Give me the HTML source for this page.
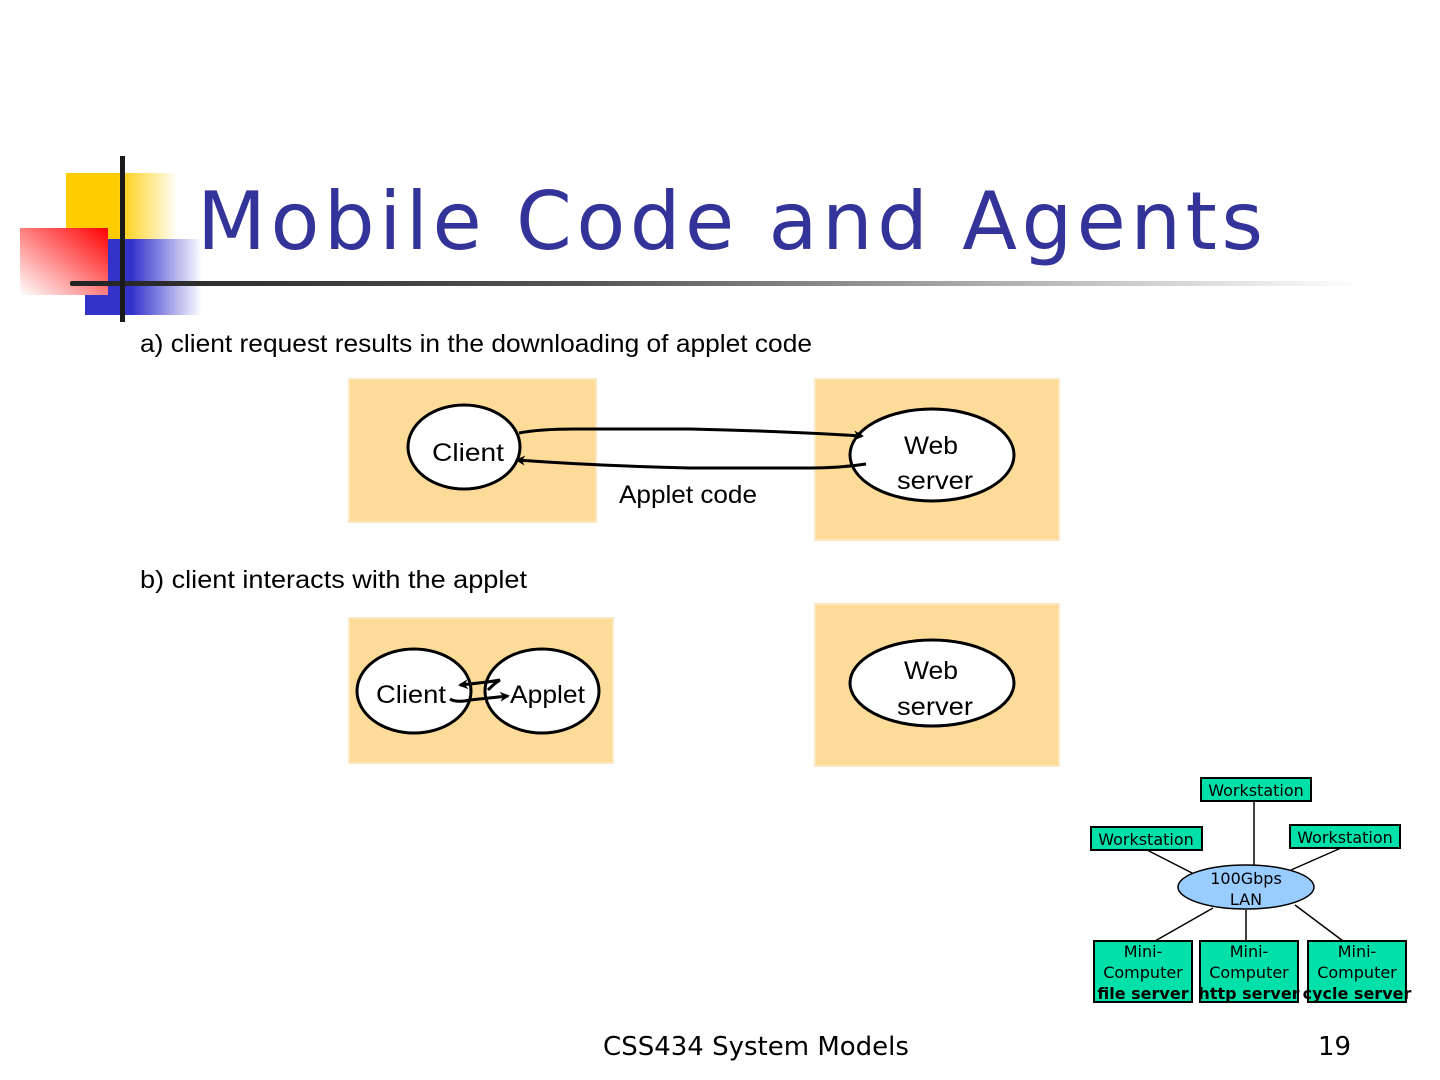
<!DOCTYPE html>
<html><head><meta charset="utf-8"><style>
html,body{margin:0;padding:0;background:#fff;}
svg{display:block;}
text{font-family:"Liberation Sans",sans-serif;}
.dv{font-family:"DejaVu Sans","Liberation Sans",sans-serif;}
</style></head><body>
<svg width="1440" height="1080" viewBox="0 0 1440 1080" xmlns="http://www.w3.org/2000/svg">
<defs>
<linearGradient id="gy" x1="0" x2="1" y1="0" y2="0"><stop offset="0.45" stop-color="#ffcc00"/><stop offset="1" stop-color="#ffffff"/></linearGradient>
<linearGradient id="gr" x1="0" y1="1" x2="1" y2="0"><stop offset="0" stop-color="#ffffff"/><stop offset="1" stop-color="#ff0000"/></linearGradient>
<linearGradient id="gb" x1="0" x2="1" y1="0" y2="0"><stop offset="0.4" stop-color="#3333cc"/><stop offset="1" stop-color="#ffffff"/></linearGradient>
<linearGradient id="gl" x1="0" x2="1" y1="0" y2="0"><stop offset="0" stop-color="#222"/><stop offset="0.4" stop-color="#555"/><stop offset="1" stop-color="#ffffff"/></linearGradient>
<marker id="ah" markerWidth="10" markerHeight="10" refX="8" refY="5" orient="auto" markerUnits="userSpaceOnUse"><path d="M0,0 L10,5 L0,10 L3,5 Z" fill="#000"/></marker>
</defs>
<rect x="66" y="173" width="112" height="68" fill="url(#gy)"/>
<rect x="85" y="239" width="117" height="76" fill="url(#gb)"/>
<rect x="20" y="228" width="88" height="67" fill="url(#gr)"/>
<rect x="70" y="281" width="1292" height="5" rx="2" fill="url(#gl)"/>
<rect x="120" y="156" width="5" height="166" fill="#1a1a1a"/>
<text class="dv" x="197" y="249" font-size="80" fill="#333399" textLength="1066">Mobile Code and Agents</text>

<text x="140" y="352" font-size="25" fill="#000" textLength="672" lengthAdjust="spacingAndGlyphs">a) client request results in the downloading of applet code</text>
<rect x="349" y="379" width="247" height="143" fill="#fddc9a" stroke="#fbe8c0" stroke-width="2"/>
<rect x="815" y="379" width="244" height="161" fill="#fddc9a" stroke="#fbe8c0" stroke-width="2"/>
<ellipse cx="464" cy="447" rx="56" ry="42" fill="#fff" stroke="#000" stroke-width="3"/>
<text x="432" y="461" font-size="25" textLength="72" lengthAdjust="spacingAndGlyphs">Client</text>
<ellipse cx="932" cy="455" rx="82" ry="46" fill="#fff" stroke="#000" stroke-width="3"/>
<text x="904" y="454" font-size="25" textLength="54" lengthAdjust="spacingAndGlyphs">Web</text>
<text x="897" y="489" font-size="25" textLength="76" lengthAdjust="spacingAndGlyphs">server</text>
<path d="M519,433 Q540,429 575,429 L690,429 Q780,431 862,436" fill="none" stroke="#000" stroke-width="3" marker-end="url(#ah)"/>
<path d="M866,464 Q840,468 810,468 L690,468 Q600,466 517,460" fill="none" stroke="#000" stroke-width="3" marker-end="url(#ah)"/>
<text x="619" y="503" font-size="25" textLength="138" lengthAdjust="spacingAndGlyphs">Applet code</text>

<text x="140" y="588" font-size="25" fill="#000" textLength="387" lengthAdjust="spacingAndGlyphs">b) client  interacts with the applet</text>
<rect x="349" y="618" width="264" height="145" fill="#fddc9a" stroke="#fbe8c0" stroke-width="2"/>
<rect x="815" y="604" width="244" height="162" fill="#fddc9a" stroke="#fbe8c0" stroke-width="2"/>
<ellipse cx="414" cy="691" rx="57" ry="42" fill="#fff" stroke="#000" stroke-width="3"/>
<ellipse cx="542" cy="691" rx="57" ry="42" fill="#fff" stroke="#000" stroke-width="3"/>
<text x="376" y="703" font-size="25" textLength="70" lengthAdjust="spacingAndGlyphs">Client</text>
<text x="510" y="703" font-size="25" textLength="75" lengthAdjust="spacingAndGlyphs">Applet</text>
<path d="M488,690 Q496,682 500,680 Q490,682 460,685" fill="none" stroke="#000" stroke-width="3" marker-end="url(#ah)"/>
<path d="M450,699 Q456,703 470,700 L508,696" fill="none" stroke="#000" stroke-width="3" marker-end="url(#ah)"/>
<ellipse cx="932" cy="683" rx="82" ry="43" fill="#fff" stroke="#000" stroke-width="3"/>
<text x="904" y="679" font-size="25" textLength="54" lengthAdjust="spacingAndGlyphs">Web</text>
<text x="897" y="715" font-size="25" textLength="76" lengthAdjust="spacingAndGlyphs">server</text>

<g stroke="#000" stroke-width="1.5">
<line x1="1254" y1="801" x2="1254" y2="866"/>
<line x1="1147" y1="850" x2="1196" y2="875"/>
<line x1="1341" y1="848" x2="1291" y2="870"/>
<line x1="1213" y1="908" x2="1155" y2="941"/>
<line x1="1246" y1="910" x2="1246" y2="941"/>
<line x1="1295" y1="905" x2="1343" y2="941"/>
</g>
<g stroke="#000" stroke-width="2" fill="#00e0a8">
<rect x="1201" y="778" width="110" height="23"/>
<rect x="1091" y="827" width="111" height="23"/>
<rect x="1290" y="825" width="110" height="23"/>
<rect x="1094" y="941" width="98" height="61"/>
<rect x="1200" y="941" width="98" height="61"/>
<rect x="1308" y="941" width="98" height="61"/>
</g>
<ellipse cx="1246" cy="887" rx="68" ry="22" fill="#99ccff" stroke="#000" stroke-width="1.5"/>
<g class="dv" font-size="16" fill="#000" text-anchor="middle" font-family="DejaVu Sans, sans-serif">
<text x="1256" y="796" class="dv">Workstation</text>
<text x="1146" y="845" class="dv">Workstation</text>
<text x="1345" y="843" class="dv">Workstation</text>
<text x="1246" y="884" class="dv">100Gbps</text>
<text x="1246" y="905" class="dv">LAN</text>
<text x="1143" y="957" class="dv">Mini-</text><text x="1143" y="978" class="dv">Computer</text>
<text x="1249" y="957" class="dv">Mini-</text><text x="1249" y="978" class="dv">Computer</text>
<text x="1357" y="957" class="dv">Mini-</text><text x="1357" y="978" class="dv">Computer</text>
<text x="1143" y="999" class="dv" font-weight="bold">file server</text>
<text x="1249" y="999" class="dv" font-weight="bold">http server</text>
<text x="1357" y="999" class="dv" font-weight="bold">cycle server</text>
</g>
<text class="dv" x="756" y="1055" font-size="26" text-anchor="middle" fill="#000">CSS434 System Models</text>
<text class="dv" x="1318" y="1055" font-size="26" fill="#000">19</text>
</svg>
</body></html>
